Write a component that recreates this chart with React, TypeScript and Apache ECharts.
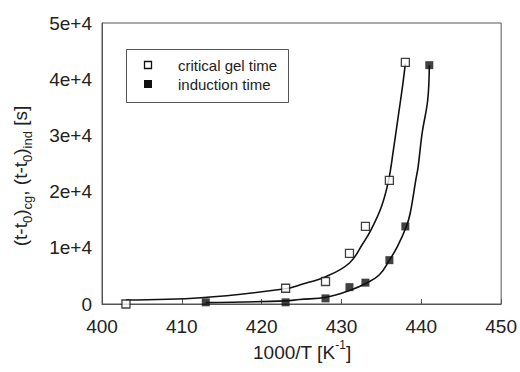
import React, { useEffect, useRef } from "react";
import * as echarts from "echarts";

// measured points
const gelX = [403, 423, 428, 431, 433, 436, 438];
const gelY = [0, 2800, 4000, 9000, 13800, 22000, 43000];
const indX = [413, 423, 428, 431, 433, 436, 438, 441];
const indY = [300, 300, 1000, 3000, 3800, 7800, 13800, 42500];

// fitted curves
const gelFitX = [403, 412.4, 423, 424.75, 428.1, 431, 432.7, 433.7, 435, 435.9, 436.5, 437.1, 437.7, 438];
const gelFitY = [700, 1100, 2700, 3400, 4900, 7300, 10800, 13200, 17300, 22000, 27400, 33300, 39300, 42800];
const indFitX = [413, 423, 424.75, 428.1, 431, 433.1, 434.75, 436, 437, 438.1, 438.6, 439.3, 439.6, 440.1, 440.8, 441];
const indFitY = [250, 550, 800, 1200, 2400, 3700, 5200, 7800, 10200, 13700, 16100, 22000, 24400, 30400, 36300, 42500];

const xTicks = { min: 400, max: 450, interval: 10 };
const yTicks = { min: 0, max: 50000, interval: 10000 };
const legendNames = ["critical gel time", "induction time"];

const FONT = "'Liberation Sans', Arial, Helvetica, sans-serif";
const TXT = "#222";

const zip = (xs: number[], ys: number[]) => xs.map((x, i) => [x, ys[i]]);

export default function App() {
  const ref = useRef<HTMLDivElement>(null);
  useEffect(() => {
    if (!ref.current) return;
    const chart = echarts.init(ref.current, undefined, { renderer: "svg" });
    const lineStyle = { color: "#111", width: 1.6 };
    chart.setOption({
      animation: false,
      backgroundColor: "#fff",
      grid: {
        left: 102,
        top: 23,
        right: 18,
        bottom: 68,
        show: true,
        borderColor: "#555",
        borderWidth: 1,
      },
      xAxis: {
        type: "value",
        ...xTicks,
        axisLine: { show: true, lineStyle: { color: "#555", width: 1 } },
        axisTick: { show: true, inside: true, length: 5, lineStyle: { color: "#555" } },
        splitLine: { show: false },
        axisLabel: { color: TXT, fontSize: 19, fontFamily: FONT, margin: 13 },
      },
      yAxis: {
        type: "value",
        ...yTicks,
        axisLine: { show: true, lineStyle: { color: "#555", width: 1 } },
        axisTick: { show: false },
        splitLine: { show: false },
        axisLabel: {
          color: TXT,
          fontSize: 19,
          fontFamily: FONT,
          margin: 10,
          formatter: (v: number) => (v === 0 ? "0" : `${v / 10000}e+4`),
        },
      },
      graphic: [
        {
          type: "text",
          x: 20,
          y: 176,
          rotation: Math.PI / 2,
          style: {
            text: "{n|(t-t}{s|0}{n|)}{s|cg}{n|, (t-t}{s|0}{n|)}{s|ind}{n| [s]}",
            align: "center",
            verticalAlign: "middle",
            fill: TXT,
            fontFamily: FONT,
            rich: {
              n: { fontSize: 19, lineHeight: 28, verticalAlign: "middle", fontFamily: FONT, fill: TXT },
              s: { fontSize: 13, lineHeight: 28, verticalAlign: "bottom", fontFamily: FONT, fill: TXT },
            },
          },
        },
        {
          type: "text",
          x: 302,
          y: 352,
          style: {
            text: "{n|1000/T [K}{p|-1}{n|]}",
            align: "center",
            verticalAlign: "middle",
            fill: TXT,
            fontFamily: FONT,
            rich: {
              n: { fontSize: 19, lineHeight: 26, verticalAlign: "middle", fontFamily: FONT, fill: TXT },
              p: { fontSize: 12, lineHeight: 26, verticalAlign: "top", fontFamily: FONT, fill: TXT },
            },
          },
        },
        {
          type: "rect",
          shape: { x: 126.5, y: 49.5, width: 162, height: 53 },
          style: { fill: "#fff", stroke: "#555", lineWidth: 1 },
          z: 10,
        },
        {
          type: "rect",
          shape: { x: 144.5, y: 61.5, width: 7, height: 7 },
          style: { fill: "#fff", stroke: "#111", lineWidth: 1.3 },
          z: 11,
        },
        {
          type: "rect",
          shape: { x: 144, y: 80, width: 8, height: 8 },
          style: { fill: "#111" },
          z: 11,
        },
        {
          type: "text",
          x: 178,
          y: 65,
          style: { text: legendNames[0], fontSize: 15, fontFamily: FONT, fill: TXT, verticalAlign: "middle" },
          z: 11,
        },
        {
          type: "text",
          x: 178,
          y: 84,
          style: { text: legendNames[1], fontSize: 15, fontFamily: FONT, fill: TXT, verticalAlign: "middle" },
          z: 11,
        },
      ],
      series: [
        {
          type: "line",
          data: zip(gelFitX, gelFitY),
          showSymbol: false,
          smooth: 0.4,
          lineStyle,
          z: 2,
        },
        {
          type: "line",
          data: zip(indFitX, indFitY),
          showSymbol: false,
          smooth: 0.4,
          lineStyle,
          z: 2,
        },
        {
          name: legendNames[0],
          type: "scatter",
          data: zip(gelX, gelY),
          symbol: "rect",
          symbolSize: 8,
          itemStyle: { color: "#fff", borderColor: "#111", borderWidth: 1.3 },
          z: 3,
        },
        {
          name: legendNames[1],
          type: "scatter",
          data: zip(indX, indY),
          symbol: "rect",
          symbolSize: 8,
          itemStyle: { color: "#111" },
          z: 3,
        },
      ],
    });
    return () => chart.dispose();
  }, []);
  return (
    <div
      ref={ref}
      style={{ position: "absolute", left: 0, top: 0, width: 520, height: 372 }}
    />
  );
}
